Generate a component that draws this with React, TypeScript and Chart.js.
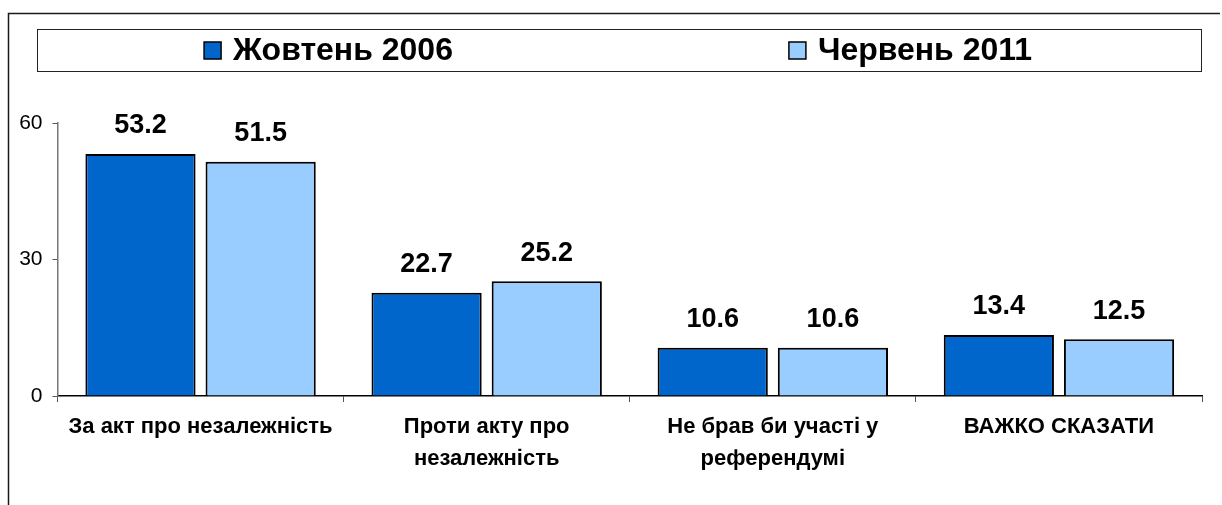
import React, { useEffect, useRef } from "react";
import { Chart, registerables } from "chart.js";

Chart.register(...registerables);

const categories: string[][] = [
  ["За акт про незалежність"],
  ["Проти акту про", "незалежність"],
  ["Не брав би участі у", "референдумі"],
  ["ВАЖКО СКАЗАТИ"],
];
const seriesNames = ["Жовтень 2006", "Червень 2011"];
const oct2006 = [53.2, 22.7, 10.6, 13.4];
const jun2011 = [51.5, 25.2, 10.6, 12.5];
const yTicks = [0, 30, 60];

const colors = ["#0066CC", "#99CCFF"];
const FONT = "'Liberation Sans', Arial, sans-serif";

const framePlugin = {
  id: "frame",
  beforeDraw(chart: any) {
    const ctx = chart.ctx;
    ctx.save();
    ctx.fillStyle = "#ffffff";
    ctx.fillRect(0, 0, chart.width, chart.height);
    ctx.strokeStyle = "#1a1a1a";
    ctx.lineWidth = 1.5;
    ctx.beginPath();
    ctx.moveTo(8.5, chart.height);
    ctx.lineTo(8.5, 13.5);
    ctx.lineTo(1220, 13.5);
    ctx.stroke();
    // legend box
    const bx = 37.5, by = 29.5, bw = 1164, bh = 42;
    ctx.lineWidth = 1;
    ctx.strokeStyle = "#222";
    ctx.strokeRect(bx, by, bw, bh);
    ctx.font = `bold 32px ${FONT}`;
    ctx.textBaseline = "middle";
    ctx.textAlign = "left";
    chart.data.datasets.forEach((ds: any, i: number) => {
      const label = ds.label as string;
      const tw = ctx.measureText(label).width;
      const total = 17 + 12 + tw;
      const cx = bx + bw * (i === 0 ? 0.25 : 0.75);
      const x0 = cx - total / 2;
      const cy = by + bh / 2;
      ctx.fillStyle = ds.backgroundColor;
      ctx.fillRect(x0, cy - 8.5, 17, 17);
      ctx.lineWidth = 1.5;
      ctx.strokeStyle = "#000";
      ctx.strokeRect(x0, cy - 8.5, 17, 17);
      ctx.fillStyle = "#000";
      ctx.fillText(label, x0 + 29, cy + 1);
    });
    ctx.restore();
  },
};

const valueLabelPlugin = {
  id: "valueLabels",
  afterDatasetsDraw(chart: any) {
    const ctx = chart.ctx;
    ctx.save();
    ctx.font = `bold 27px ${FONT}`;
    ctx.fillStyle = "#000";
    ctx.textAlign = "center";
    ctx.textBaseline = "middle";
    chart.data.datasets.forEach((ds: any, di: number) => {
      const meta = chart.getDatasetMeta(di);
      meta.data.forEach((bar: any, i: number) => {
        ctx.fillText(Number(ds.data[i]).toFixed(1), bar.x, bar.y - 28);
      });
    });
    ctx.restore();
  },
};

export default function App() {
  const ref = useRef<HTMLCanvasElement | null>(null);
  useEffect(() => {
    if (!ref.current) return;
    const chart = new Chart(ref.current, {
      type: "bar",
      data: {
        labels: categories,
        datasets: [
          {
            label: seriesNames[0],
            data: oct2006,
            backgroundColor: colors[0],
            borderColor: "#000",
            borderWidth: 2,
          },
          {
            label: seriesNames[1],
            data: jun2011,
            backgroundColor: colors[1],
            borderColor: "#000",
            borderWidth: 2,
          },
        ],
      },
      options: {
        responsive: false,
        animation: false,
        layout: { padding: { left: 0, right: 20, top: 123, bottom: 0 } },
        datasets: {
          bar: { categoryPercentage: 0.84, barPercentage: 0.917 },
        },
        plugins: {
          legend: { display: false },
          tooltip: { enabled: false },
          title: { display: false },
        },
        scales: {
          x: {
            offset: true,
            grid: {
              offset: true,
              drawOnChartArea: false,
              drawTicks: true,
              tickLength: 6,
              color: "#555",
            },
            border: { color: "#000", width: 1.5 },
            ticks: {
              color: "#000",
              padding: 9,
              maxRotation: 0,
              autoSkip: false,
              font: { family: FONT, size: 22, weight: "bold", lineHeight: 1.45 },
            },
            afterFit: (s: any) => {
              s.height = 109;
            },
          },
          y: {
            min: 0,
            max: 60,
            afterBuildTicks: (s: any) => {
              s.ticks = yTicks.map((v) => ({ value: v }));
            },
            grid: {
              drawOnChartArea: false,
              drawTicks: true,
              tickLength: 5,
              color: "#555",
            },
            border: { color: "#777", width: 1.5 },
            ticks: {
              color: "#000",
              padding: 10,
              font: { family: FONT, size: 21 },
            },
            afterFit: (s: any) => {
              s.width = 57.5;
            },
          },
        },
      },
      plugins: [framePlugin, valueLabelPlugin],
    } as any);
    return () => chart.destroy();
  }, []);
  return (
    <div style={{ position: "fixed", left: 0, top: 0, width: 1222, height: 505, background: "#fff" }}>
      <canvas ref={ref} width={1222} height={505} />
    </div>
  );
}
